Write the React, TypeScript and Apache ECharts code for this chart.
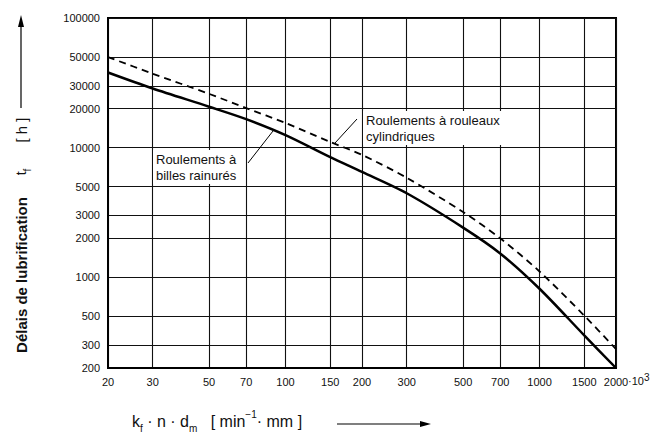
import React, { useEffect, useRef } from "react";
import * as echarts from "echarts";

const xTicks = [20, 30, 50, 70, 100, 150, 200, 300, 500, 700, 1000, 1500, 2000];
const yTicks = [200, 300, 500, 1000, 2000, 3000, 5000, 10000, 20000, 30000, 50000, 100000];

const xValues = [20, 30, 50, 70, 100, 150, 200, 300, 500, 700, 1000, 1500, 2000];
const billesRainures = [38000, 28600, 20700, 16600, 12500, 8450, 6500, 4450, 2420, 1530, 817, 357, 200];
const rouleauxCylindriques = [50000, 37200, 26000, 20200, 15500, 11070, 8800, 5860, 3190, 2000, 1110, 507, 280];

const labelBilles = "Roulements à\nbilles rainurés";
const labelRouleaux = "Roulements à rouleaux\ncylindriques";
const yTitle = "Délais de lubrification";

const FONT = "'Liberation Sans', Arial, sans-serif";

export default function App() {
  const ref = useRef<HTMLDivElement>(null);
  useEffect(() => {
    if (!ref.current) return;
    const chart = echarts.init(ref.current, null, { renderer: "svg" });
    const pair = (ys: number[]) => xValues.map((x, i) => [x, ys[i]]);
    const option: any = {
      animation: false,
      backgroundColor: "#fff",
      grid: {
        left: 108,
        right: 42,
        top: 18,
        bottom: 68,
        show: true,
        borderColor: "#000",
        borderWidth: 2,
        backgroundColor: "transparent",
      },
      xAxis: {
        type: "log",
        logBase: 10,
        min: 20,
        max: 2000,
        axisLine: { show: true, lineStyle: { color: "#000", width: 2 } },
        axisTick: { show: false, customValues: xTicks },
        axisLabel: {
          customValues: xTicks,
          formatter: (v: number) => String(Math.round(v)),
          color: "#111",
          fontFamily: FONT,
          fontSize: 11,
          margin: 8,
        },
        splitLine: { show: true, lineStyle: { color: "#111", width: 1.1 } },
        minorTick: { show: false },
        minorSplitLine: { show: false },
      },
      yAxis: {
        type: "log",
        logBase: 10,
        min: 200,
        max: 100000,
        axisLine: { show: true, lineStyle: { color: "#000", width: 2 } },
        axisTick: { show: false, customValues: yTicks },
        axisLabel: {
          customValues: yTicks,
          formatter: (v: number) => String(Math.round(v)),
          color: "#111",
          fontFamily: FONT,
          fontSize: 11,
          margin: 8,
        },
        splitLine: { show: true, lineStyle: { color: "#111", width: 1.1 } },
        minorTick: { show: false },
        minorSplitLine: { show: false },
      },
      series: [
        {
          name: "Roulements à billes rainurés",
          type: "line",
          data: pair(billesRainures),
          showSymbol: false,
          smooth: 0.3,
          lineStyle: { color: "#000", width: 2.5 },
          z: 5,
        },
        {
          name: "Roulements à rouleaux cylindriques",
          type: "line",
          data: pair(rouleauxCylindriques),
          showSymbol: false,
          smooth: 0.3,
          lineStyle: { color: "#000", width: 1.8, type: [7, 5] },
          z: 5,
        },
      ],
      graphic: [
        {
          type: "text",
          x: 153,
          y: 150,
          z: 100,
          style: {
            text: labelBilles,
            fontFamily: FONT,
            fontSize: 13,
            lineHeight: 16,
            fill: "#111",
            backgroundColor: "#fff",
            padding: [1, 3],
            align: "left",
            verticalAlign: "top",
          },
        },
        {
          type: "text",
          x: 363,
          y: 111,
          z: 100,
          style: {
            text: labelRouleaux,
            fontFamily: FONT,
            fontSize: 13,
            lineHeight: 16,
            fill: "#111",
            backgroundColor: "#fff",
            padding: [1, 3],
            align: "left",
            verticalAlign: "top",
          },
        },
        { type: "line", z: 100, shape: { x1: 248, y1: 163, x2: 273, y2: 131 }, style: { stroke: "#000", lineWidth: 1 } },
        { type: "line", z: 100, shape: { x1: 357, y1: 119, x2: 335, y2: 143 }, style: { stroke: "#000", lineWidth: 1 } },
        {
          type: "text",
          x: 628,
          y: 381,
          z: 100,
          style: {
            text: "{n|·10}{p|3}",
            align: "left",
            verticalAlign: "middle",
            rich: {
              n: { fontFamily: FONT, fontSize: 11, lineHeight: 18, verticalAlign: "middle", fill: "#111" },
              p: { fontFamily: FONT, fontSize: 10, lineHeight: 10, verticalAlign: "top", fill: "#111" },
            },
          },
        },
        {
          type: "text",
          x: 132,
          y: 421,
          z: 100,
          style: {
            text: "{n|k}{s|f}{n| · n · d}{s|m}{n|   [ min}{p|−1}{n|· mm ]}",
            align: "left",
            verticalAlign: "middle",
            rich: {
              n: { fontFamily: FONT, fontSize: 16, lineHeight: 24, verticalAlign: "middle", fill: "#111" },
              s: { fontFamily: FONT, fontSize: 10, lineHeight: 10, verticalAlign: "bottom", fill: "#111" },
              p: { fontFamily: FONT, fontSize: 10, lineHeight: 10, verticalAlign: "top", fill: "#111" },
            },
          },
        },
        { type: "line", z: 100, shape: { x1: 337, y1: 424, x2: 421, y2: 424 }, style: { stroke: "#000", lineWidth: 1.2 } },
        { type: "polygon", z: 100, shape: { points: [[431, 424], [420, 421], [420, 427]] }, style: { fill: "#000" } },
        {
          type: "text",
          x: 21,
          y: 275,
          rotation: Math.PI / 2,
          z: 100,
          style: {
            text: yTitle,
            fontFamily: FONT,
            fontSize: 15,
            fontWeight: "bold",
            fill: "#111",
            align: "center",
            verticalAlign: "middle",
          },
        },
        {
          type: "text",
          x: 21,
          y: 172,
          rotation: Math.PI / 2,
          z: 100,
          style: {
            text: "{n|t}{s|f}",
            align: "center",
            verticalAlign: "middle",
            rich: {
              n: { fontFamily: FONT, fontSize: 14, lineHeight: 22, verticalAlign: "middle", fill: "#111" },
              s: { fontFamily: FONT, fontSize: 10, lineHeight: 10, verticalAlign: "bottom", fill: "#111" },
            },
          },
        },
        {
          type: "text",
          x: 21,
          y: 130,
          rotation: Math.PI / 2,
          z: 100,
          style: {
            text: "[ h ]",
            fontFamily: FONT,
            fontSize: 15,
            fill: "#111",
            align: "center",
            verticalAlign: "middle",
          },
        },
        { type: "line", z: 100, shape: { x1: 21, y1: 108, x2: 21, y2: 26 }, style: { stroke: "#000", lineWidth: 1.2 } },
        { type: "polygon", z: 100, shape: { points: [[21, 15], [18, 27], [24, 27]] }, style: { fill: "#000" } },
      ],
    };
    chart.setOption(option);
    return () => chart.dispose();
  }, []);
  return (
    <div
      ref={ref}
      style={{ position: "fixed", left: 0, top: 0, width: "658px", height: "436px", background: "#fff" }}
    />
  );
}
